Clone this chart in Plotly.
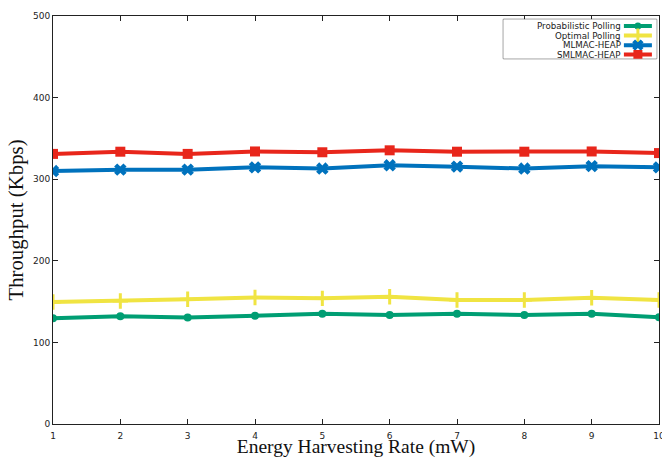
import plotly.graph_objects as go

x_rate = [1, 2, 3, 4, 5, 6, 7, 8, 9, 10]
prob_polling = [129.5, 132, 130.5, 132.8, 135, 133.6, 135, 133.6, 135, 130.7]
opt_polling = [149.5, 150.7, 152.8, 155, 154, 156, 152, 152, 154.8, 152]
mlmac_heap = [310, 311.7, 311.7, 314.5, 313, 317, 315.4, 313, 316, 314.5]
smlmac_heap = [331, 333.7, 331, 334, 333, 335.4, 333.7, 333.7, 334, 332]

y_ticks = [0, 100, 200, 300, 400, 500]
x_ticks = [1, 2, 3, 4, 5, 6, 7, 8, 9, 10]

series_names = ["Probabilistic Polling", "Optimal Polling", "MLMAC-HEAP", "SMLMAC-HEAP"]
series_values = [prob_polling, opt_polling, mlmac_heap, smlmac_heap]
colors = ["#009E73", "#F0E442", "#0072BD", "#E8261B"]
symbols = ["circle", "cross-thin", "x", "square"]
sizes = [8, 11, 11, 10]
outline = [0, 3, 0, 0]

# legend key layout (pixel units inside the legend box)
leg_w, leg_h = 153.4, 39.4
leg_rows = [6.7, 16.2, 25.9, 35.2]
leg_text_right, leg_line = 119.5, (120.6, 148.6)

fig = go.Figure()
for i, name in enumerate(series_names):
    mk = dict(symbol=symbols[i], size=sizes[i], color=colors[i])
    if outline[i]:
        mk["line"] = dict(width=outline[i], color=colors[i])
    fig.add_trace(go.Scatter(
        x=x_rate, y=series_values[i], name=name, mode="lines+markers",
        line=dict(color=colors[i], width=4), marker=mk, showlegend=False,
    ))

# custom legend (key on the right of the label, as in the reference)
for i, name in enumerate(series_names):
    mk = dict(symbol=symbols[i], size=sizes[i] - 1, color=colors[i])
    if outline[i]:
        mk["line"] = dict(width=outline[i], color=colors[i])
    fig.add_trace(go.Scatter(
        x=[leg_line[0], leg_line[1]], y=[leg_rows[i]] * 2, mode="lines",
        line=dict(color=colors[i], width=4), xaxis="x2", yaxis="y2",
        showlegend=False, hoverinfo="skip",
    ))
    fig.add_trace(go.Scatter(
        x=[(leg_line[0] + leg_line[1]) / 2], y=[leg_rows[i]], mode="markers",
        marker=mk, xaxis="x2", yaxis="y2", showlegend=False, hoverinfo="skip",
    ))
    fig.add_annotation(
        x=leg_text_right, y=leg_rows[i], xref="x2", yref="y2", text=name,
        showarrow=False, xanchor="right", yanchor="middle",
        font=dict(family="DejaVu Sans", size=8.7, color="#222"),
    )

fig.add_shape(type="rect", xref="x2 domain", yref="y2 domain", x0=0, x1=1, y0=0, y1=1,
              line=dict(color="#333", width=1), fillcolor="rgba(0,0,0,0)", layer="below")

axis_common = dict(
    showline=True, linecolor="#222", linewidth=1, mirror="ticks",
    ticks="inside", ticklen=5, tickcolor="#222", showgrid=False, zeroline=False,
    tickfont=dict(family="DejaVu Sans", size=9, color="#222"),
    automargin=False, ticklabeloverflow="allow",
)

W, H = 662, 458
ml, mr, mt, mb = 53, 3, 16, 34
pw, ph = W - ml - mr, H - mt - mb
lx0 = 503.3
ly0 = 19.3

fig.update_layout(
    width=W, height=H,
    margin=dict(l=ml, r=mr, t=mt, b=mb),
    plot_bgcolor="white", paper_bgcolor="white",
    xaxis=dict(range=[1, 10], tickvals=x_ticks, ticklabelstandoff=3,
               title=dict(text="Energy Harvesting Rate (mW)", standoff=13,
                          font=dict(family="Liberation Serif", size=19.5, color="#111")),
               **axis_common),
    yaxis=dict(range=[0, 500], tickvals=y_ticks,
               title=dict(text="Throughput (Kbps)", standoff=3,
                          font=dict(family="Liberation Serif", size=20.8, color="#111")),
               **axis_common),
    xaxis2=dict(domain=[(lx0 - ml) / pw, (lx0 + leg_w - ml) / pw], range=[0, leg_w],
                anchor="y2", visible=False, fixedrange=True),
    yaxis2=dict(domain=[(H - mb - (ly0 + leg_h)) / ph, (H - mb - ly0) / ph],
                range=[leg_h, 0], anchor="x2", visible=False, fixedrange=True),
    showlegend=False,
)

fig.write_html("out.html", config={"displayModeBar": False},
               post_script="document.body.style.margin='0';document.body.style.overflow='hidden';")
